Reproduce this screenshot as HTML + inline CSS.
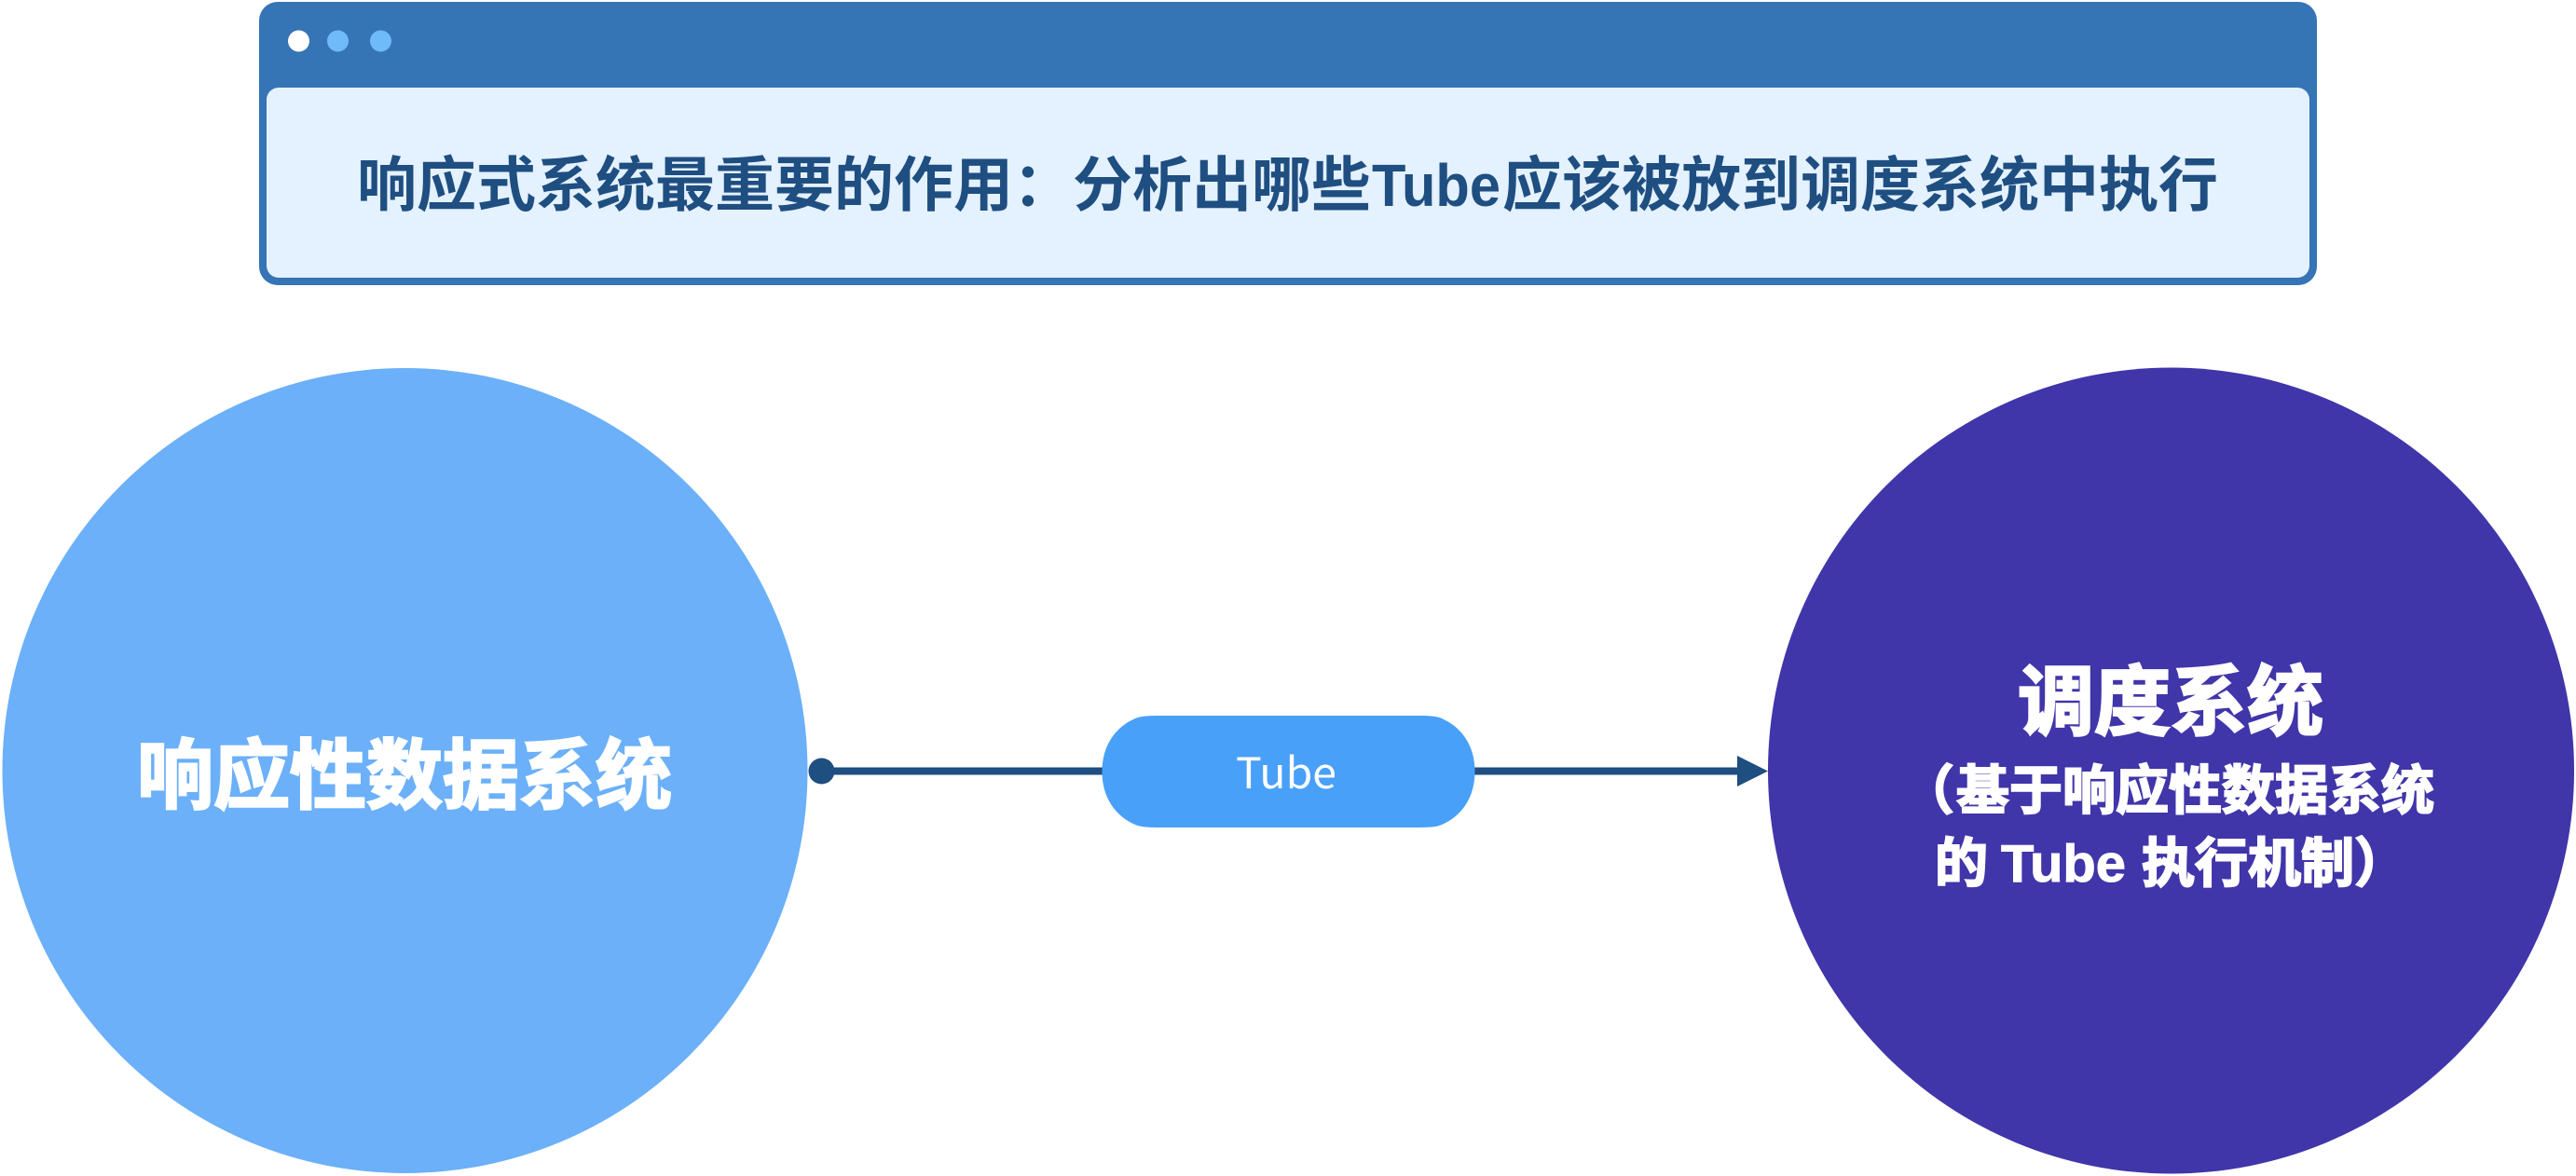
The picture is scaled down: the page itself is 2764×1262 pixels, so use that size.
<!DOCTYPE html>
<html>
<head>
<meta charset="utf-8">
<style>
html,body{margin:0;padding:0;background:#fff;width:2764px;height:1262px;overflow:hidden}
svg{display:block}
text{font-family:"Liberation Sans","Noto Sans CJK SC",sans-serif}
.cjk{font-family:"Noto Sans CJK SC","Liberation Sans",sans-serif}
.lat{font-family:"Liberation Sans","Noto Sans CJK SC",sans-serif}
</style>
</head>
<body>
<svg width="2764" height="1262" viewBox="0 0 2764 1262" xmlns="http://www.w3.org/2000/svg">
  <rect x="278" y="2" width="2208" height="304" rx="20" ry="20" fill="#3574B5"/>
  <rect x="286" y="94" width="2192" height="204" rx="13" ry="13" fill="#E4F1FE"/>
  <circle cx="320.5" cy="44" r="11.5" fill="#fff"/>
  <circle cx="362.5" cy="44" r="11.5" fill="#6FBBFA"/>
  <circle cx="408.5" cy="44" r="11.5" fill="#6FBBFA"/>

  <g font-size="64" font-weight="700" fill="#1F4E81">
    <text class="cjk" x="383" y="221">响应式系统最重要的作用：分析出哪些</text>
    <text class="lat" x="1472" y="221" textLength="138" lengthAdjust="spacingAndGlyphs">Tube</text>
    <text class="cjk" x="1612" y="221">应该被放到调度系统中执行</text>
  </g>

  <circle cx="434.5" cy="827" r="432" fill="#6BB0F8"/>
  <circle cx="2329.5" cy="827" r="432.5" fill="#4035A9"/>

  <rect x="881" y="823.5" width="983" height="8" fill="#1F4E80"/>
  <circle cx="881.5" cy="827.5" r="14" fill="#1F4E80"/>
  <polygon points="1864,811 1897,827.5 1864,844" fill="#1F4E80"/>

  <path d="M1250,768 L1515,768 C1530,768 1540,768 1547,771 C1568,780 1582.500,800 1582.500,828 C1582.500,856 1568,876 1547,885 C1540,888 1530,888 1515,888 L1250,888 C1235,888 1225,888 1218,885 C1197,876 1182.500,856 1182.500,828 C1182.500,800 1197,780 1218,771 C1225,768 1235,768 1250,768 Z" fill="#48A0F8"/>
  <text class="cjk" x="1326" y="846" font-size="46" fill="#fff" textLength="108" lengthAdjust="spacingAndGlyphs">Tube</text>

  <text class="cjk" x="147" y="861" font-size="82" font-weight="700" fill="#fff" stroke="#fff" stroke-width="2.500">响应性数据系统</text>

  <g font-weight="700" fill="#fff" stroke="#fff">
    <text class="cjk" x="2165" y="782" font-size="82" stroke-width="2.500">调度系统</text>
    <text class="cjk" x="2040" y="868" font-size="57" stroke-width="2">（</text>
    <text class="cjk" x="2099" y="868" font-size="57" stroke-width="2">基于响应性数据系统</text>
    <text class="cjk" x="2076" y="946" font-size="57" stroke-width="2">的</text>
    <text class="lat" x="2147" y="946" font-size="57" stroke-width="1" textLength="134" lengthAdjust="spacingAndGlyphs">Tube</text>
    <text class="cjk" x="2298" y="946" font-size="57" stroke-width="2">执行机制）</text>
  </g>
</svg>
</body>
</html>
